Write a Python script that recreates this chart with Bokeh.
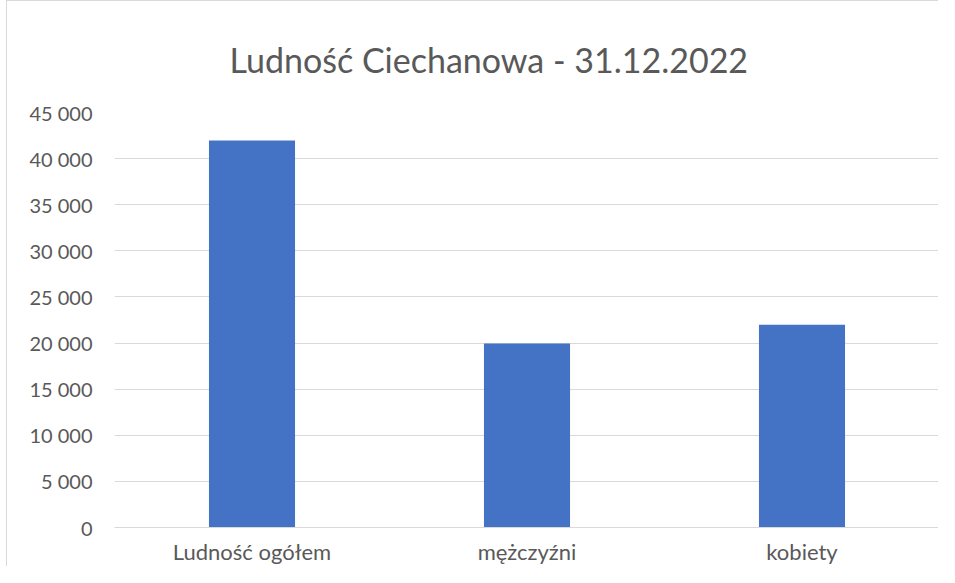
from bokeh.plotting import figure
from bokeh.models import Range1d, CustomJSTickFormatter, FixedTicker
from bokeh.embed import file_html
from bokeh.resources import INLINE

categories = ["Ludność ogółem", "mężczyźni", "kobiety"]
values = [41960, 19960, 21990]
y_ticks = [0, 5000, 10000, 15000, 20000, 25000, 30000, 35000, 40000, 45000]

p = figure(x_range=categories, y_range=Range1d(0, 45000),
           width=932, height=566, output_backend="svg", toolbar_location=None,
           min_border_left=107, min_border_right=0, min_border_top=111, min_border_bottom=40,
           title="Ludność Ciechanowa - 31.12.2022")
p.styles = {"border-left": "1px solid #d9d9d9", "border-top": "1px solid #d9d9d9",
            "margin-left": "6px"}

p.vbar(x=categories, top=values, width=0.313, fill_color="#4472C4", line_color=None)

p.title.align = "left"
p.title.text_font = "Lato"
p.title.text_font_style = "normal"
p.title.text_font_size = "34px"
p.title.text_color = "#595959"
p.title.standoff = 65
p.title.offset = 115

p.outline_line_color = None
p.background_fill_color = "white"
p.border_fill_color = "white"

p.xgrid.grid_line_color = None
p.ygrid.grid_line_color = "#d9d9d9"
p.ygrid.grid_line_width = 1
p.yaxis.ticker = FixedTicker(ticks=y_ticks)
p.yaxis.formatter = CustomJSTickFormatter(code="""
return Math.round(tick).toString().replace(/\\B(?=(\\d{3})+(?!\\d))/g, " ");
""")

for ax in (p.xaxis, p.yaxis):
    ax.axis_line_color = None
    ax.major_tick_line_color = None
    ax.minor_tick_line_color = None
    ax.major_tick_out = 0
    ax.major_tick_in = 0
    ax.major_label_text_font = "Lato"
    ax.major_label_text_color = "#595959"

p.yaxis.major_label_text_font_size = "20px"
p.xaxis.major_label_text_font_size = "22px"
p.xaxis.major_label_text_line_height = 1.0
p.xaxis.axis_line_color = "#d9d9d9"
p.yaxis.major_label_standoff = 22
p.xaxis.major_label_standoff = 10

open("out.html", "w").write(file_html(p, INLINE))
